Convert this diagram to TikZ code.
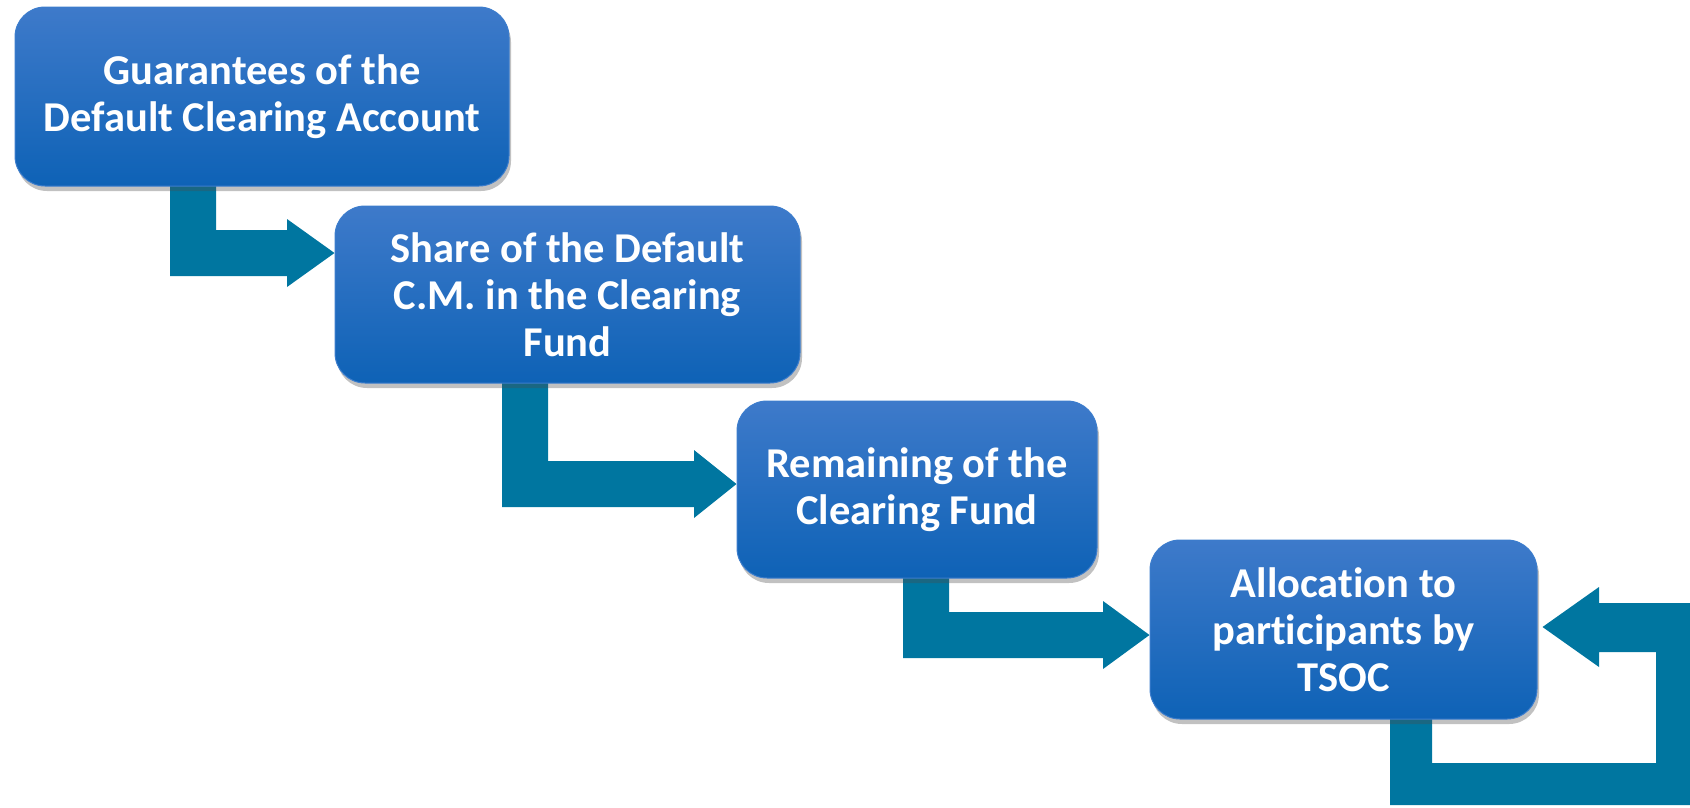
\documentclass[tikz,border=0pt]{standalone}
\usepackage{fontspec}
\setmainfont{Carlito}[Ligatures={NoCommon,NoContextual,NoRequired}]
\usetikzlibrary{shadows,backgrounds}
\definecolor{boxtop}{RGB}{62,122,202}
\definecolor{boxbot}{RGB}{14,98,182}
\definecolor{boxline}{RGB}{60,125,205}
\definecolor{arrowcol}{RGB}{0,118,160}
\tikzset{
  flowbox/.style={rectangle, rounded corners=30pt, top color=boxtop, bottom color=boxbot,
    draw=boxline, line width=1pt, align=center, text=white,
    font=\fontsize{42.5}{47}\selectfont\bfseries, inner sep=0pt,
    drop shadow={shadow xshift=2pt, shadow yshift=-5pt, opacity=0.35, fill=black!70}},
  blockarrow/.style={fill=arrowcol, draw=none}
}
\begin{document}
\begin{tikzpicture}[x=1pt,y=-1pt]
\useasboundingbox (0,0) rectangle (1690,807);
\node[flowbox, minimum width=494pt, minimum height=179pt] (b1) at (262,96.5)
  {Guarantees of the\\Default Clearing Account};
\node[flowbox, minimum width=465pt, minimum height=177pt] (b2) at (567.5,294.5)
  {Share of the Default\\C.M. in the Clearing\\Fund};
\node[flowbox, minimum width=360pt, minimum height=177pt] (b3) at (917,489.5)
  {Remaining of the\\Clearing Fund};
\node[flowbox, minimum width=387pt, minimum height=179pt] (b4) at (1343.5,629.5)
  {Allocation to\\participants by\\TSOC};
\coordinate (t1) at (b2.west |- 0,253);
\coordinate (t2) at (b3.west |- 0,484);
\coordinate (t3) at (b4.west |- 0,635);
\coordinate (t4) at ([xshift=5pt]b4.east |- 0,627);
\begin{pgfonlayer}{background}
\fill[blockarrow] (170,180) -- (216,180) -- (216,230) -- (287,230) -- (287,219)
  -- (t1) -- (287,287) -- (287,276) -- (170,276) -- cycle;
\fill[blockarrow] (502,378) -- (548,378) -- (548,461) -- (694,461) -- (694,450)
  -- (t2) -- (694,518) -- (694,507) -- (502,507) -- cycle;
\fill[blockarrow] (903,572) -- (949,572) -- (949,612) -- (1103,612) -- (1103,601)
  -- (t3) -- (1103,669) -- (1103,658) -- (903,658) -- cycle;
\fill[blockarrow] (1390,712) -- (1432,712) -- (1432,763) -- (1656,763) -- (1656,652)
  -- (1599,652) -- (1599,667) -- (t4) -- (1599,587) -- (1599,603) -- (1690,603)
  -- (1690,805) -- (1390,805) -- cycle;
\end{pgfonlayer}
\end{tikzpicture}
\end{document}
